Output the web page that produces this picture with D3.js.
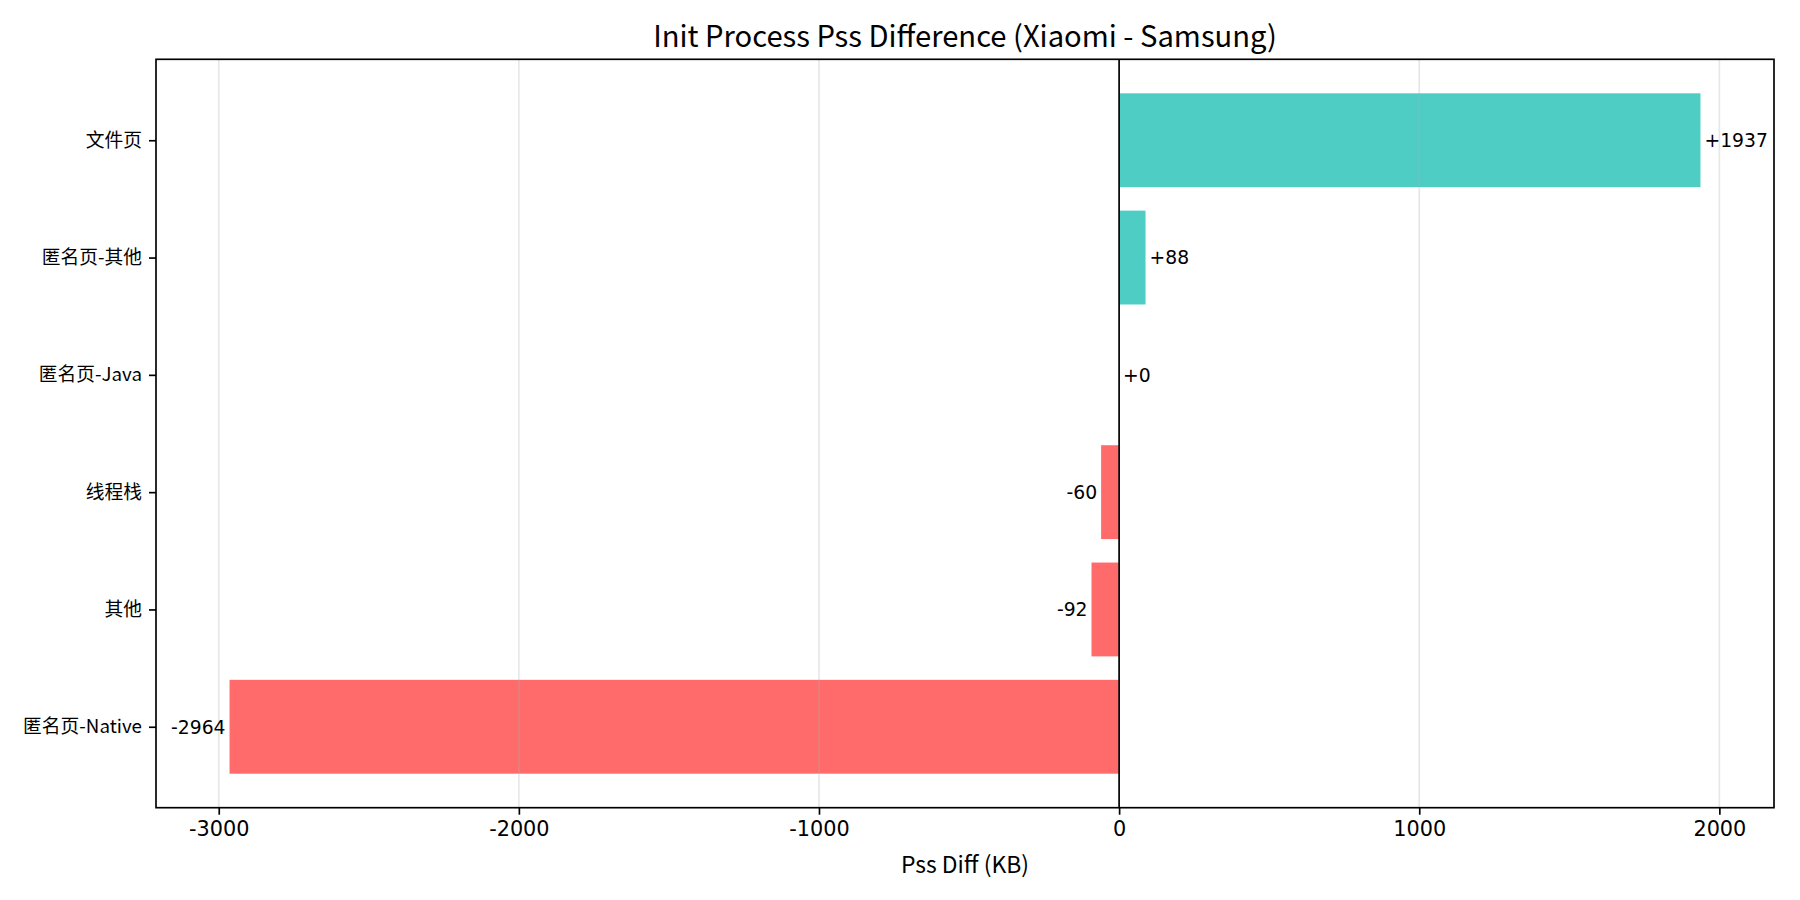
<!DOCTYPE html>
<html>
<head>
<meta charset="utf-8">
<script src="https://cdn.jsdelivr.net/npm/d3@7"></script>
<style>
  body { margin: 0; background: #fff; }
  text { fill: #000; }
</style>
</head>
<body>
<svg id="chart"></svg>
<script>
// data, bottom to top as drawn
const categories = ["匿名页-Native", "其他", "线程栈", "匿名页-Java", "匿名页-其他", "文件页"];
const diffs = [-2964, -92, -60, 0, 88, 1937];
const xTicks = [-3000, -2000, -1000, 0, 1000, 2000];

const width = 1800;
const height = 900;
const margin = { top: 59.3, right: 26, bottom: 92.3, left: 156 };

const cjk = "'Noto Sans CJK SC', 'Noto Sans', sans-serif";
const dejavu = "'DejaVu Sans', sans-serif";
const lw = 1.67;

const svg = d3.select("#chart")
    .attr("width", width)
    .attr("height", height);

// matplotlib-like 5% margins
const lo = d3.min(diffs), hi = d3.max(diffs);
const pad = (hi - lo) * 0.05;
const x = d3.scaleLinear()
    .domain([lo - pad, hi + pad])
    .range([margin.left, width - margin.right]);

const yPad = (categories.length - 1 + 0.8) * 0.05;
const y = d3.scaleLinear()
    .domain([-0.4 - yPad, categories.length - 0.6 + yPad])
    .range([height - margin.bottom, margin.top]);

const barH = y(0) - y(0.8);

// bars
svg.append("g")
    .selectAll("rect")
    .data(diffs)
    .enter()
    .append("rect")
    .attr("x", d => x(Math.min(0, d)))
    .attr("width", d => Math.abs(x(d) - x(0)))
    .attr("y", (d, i) => y(i + 0.4))
    .attr("height", barH)
    .attr("fill", d => d >= 0 ? "#4ECDC4" : "#FF6B6B");

// grid on top, faint
svg.append("g")
    .selectAll("line")
    .data(xTicks)
    .enter()
    .append("line")
    .attr("x1", d => x(d))
    .attr("x2", d => x(d))
    .attr("y1", margin.top)
    .attr("y2", height - margin.bottom)
    .attr("stroke", "#b0b0b0")
    .attr("stroke-opacity", 0.3)
    .attr("stroke-width", 1.67);

// zero line
svg.append("line")
    .attr("x1", x(0))
    .attr("x2", x(0))
    .attr("y1", margin.top)
    .attr("y2", height - margin.bottom)
    .attr("stroke", "#000")
    .attr("stroke-width", lw);

// value labels
svg.append("g")
    .selectAll("text")
    .data(diffs)
    .enter()
    .append("text")
    .attr("x", d => d >= 0 ? x(d) + 4 : x(d) - 4)
    .attr("y", (d, i) => y(i))
    .attr("dy", "0.36em")
    .attr("text-anchor", d => d >= 0 ? "start" : "end")
    .style("font-family", dejavu)
    .style("font-size", "18.75px")
    .text(d => (d >= 0 ? "+" : "") + d);

// x axis
const xAxis = svg.append("g")
    .attr("transform", `translate(0,${height - margin.bottom})`)
    .call(d3.axisBottom(x).tickValues(xTicks).tickSize(7).tickPadding(7).tickFormat(d => String(d)));
xAxis.select(".domain").remove();
xAxis.selectAll("line").attr("stroke", "#000").attr("stroke-width", lw);
xAxis.selectAll("text")
    .style("font-family", dejavu)
    .style("font-size", "20.8px")
    .style("fill", "#000");

// y axis
const yAxis = svg.append("g")
    .attr("transform", `translate(${margin.left},0)`)
    .call(d3.axisLeft(y).tickValues(d3.range(categories.length)).tickSize(7).tickPadding(7)
        .tickFormat(i => categories[i]));
yAxis.select(".domain").remove();
yAxis.selectAll("line").attr("stroke", "#000").attr("stroke-width", lw);
yAxis.selectAll("text")
    .style("font-family", cjk)
    .style("font-size", "18.75px")
    .style("fill", "#000");

// frame
svg.append("rect")
    .attr("x", margin.left)
    .attr("y", margin.top)
    .attr("width", width - margin.left - margin.right)
    .attr("height", height - margin.top - margin.bottom)
    .attr("fill", "none")
    .attr("stroke", "#000")
    .attr("stroke-width", lw);

// title
svg.append("text")
    .attr("x", (margin.left + width - margin.right) / 2)
    .attr("y", 47)
    .attr("text-anchor", "middle")
    .style("font-family", cjk)
    .style("font-size", "29.2px")
    .text("Init Process Pss Difference (Xiaomi - Samsung)");

// x label
svg.append("text")
    .attr("x", (margin.left + width - margin.right) / 2)
    .attr("y", 873)
    .attr("text-anchor", "middle")
    .style("font-family", cjk)
    .style("font-size", "22.9px")
    .text("Pss Diff (KB)");
</script>
</body>
</html>
